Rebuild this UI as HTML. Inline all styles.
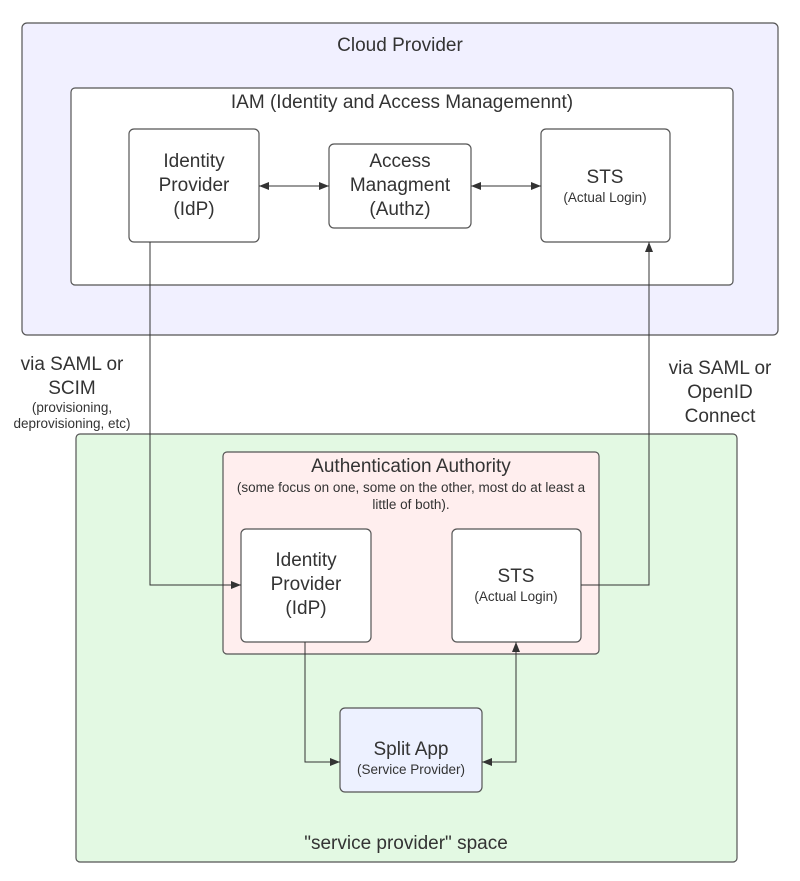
<!DOCTYPE html>
<html><head><style>body{margin:0;background:#fff}svg{display:block}text{font-family:"Liberation Sans",sans-serif;fill:#333;text-anchor:middle}</style></head>
<body>
<svg width="800" height="881" viewBox="0 0 800 881" xmlns="http://www.w3.org/2000/svg">
<defs><marker id="a" markerWidth="10" markerHeight="8" refX="10" refY="4" orient="auto-start-reverse" markerUnits="userSpaceOnUse"><path d="M0,0 L10,4 L0,8 z" fill="#333"/></marker></defs>
<g stroke="#555" stroke-width="1.2">
<rect x="22" y="23" width="756" height="312" rx="5" fill="#f1f0ff"/>
<rect x="71" y="88" width="662" height="197" rx="4" fill="#fff"/>
<rect x="129" y="129" width="130" height="113" rx="5" fill="#fff"/>
<rect x="329" y="144" width="142" height="84" rx="5" fill="#fff"/>
<rect x="541" y="129" width="129" height="113" rx="5" fill="#fff"/>
<rect x="76" y="434" width="661" height="428" rx="4" fill="#e3f9e3"/>
<rect x="223" y="452" width="376" height="202" rx="4" fill="#ffeeee"/>
<rect x="241" y="529" width="130" height="113" rx="5" fill="#fff"/>
<rect x="452" y="529" width="129" height="113" rx="5" fill="#fff"/>
<rect x="340" y="708" width="142" height="84" rx="5" fill="#edf1ff"/>
</g>
<g stroke="#333" stroke-width="1" fill="none">
<line x1="259" y1="186" x2="329" y2="186" marker-end="url(#a)" marker-start="url(#a)"/>
<line x1="471" y1="186" x2="541" y2="186" marker-end="url(#a)" marker-start="url(#a)"/>
<polyline points="150,242 150,585 241,585" marker-end="url(#a)"/>
<polyline points="581,585 649,585 649,242" marker-end="url(#a)"/>
<polyline points="305,642 305,762 340,762" marker-end="url(#a)"/>
<polyline points="482,762 516,762 516,642" marker-end="url(#a)" marker-start="url(#a)"/>
</g>
<g font-size="19">
<text x="400" y="51">Cloud Provider</text>
<text x="402" y="108">IAM (Identity and Access Managemennt)</text>
<text x="194" y="167">Identity</text>
<text x="194" y="191">Provider</text>
<text x="194" y="215">(IdP)</text>
<text x="400" y="167">Access</text>
<text x="400" y="191">Managment</text>
<text x="400" y="215">(Authz)</text>
<text x="605" y="183">STS</text>
<text x="72" y="370">via SAML or</text>
<text x="72" y="394">SCIM</text>
<text x="720" y="374">via SAML or</text>
<text x="720" y="398">OpenID</text>
<text x="720" y="422">Connect</text>
<text x="411" y="472">Authentication Authority</text>
<text x="306" y="566">Identity</text>
<text x="306" y="590">Provider</text>
<text x="306" y="614">(IdP)</text>
<text x="516" y="582">STS</text>
<text x="411" y="755">Split App</text>
<text x="406" y="849">"service provider" space</text>
</g>
<g font-size="13.5">
<text x="605" y="202">(Actual Login)</text>
<text x="72" y="412">(provisioning,</text>
<text x="72" y="428">deprovisioning, etc)</text>
<text x="411" y="492">(some focus on one, some on the other, most do at least a</text>
<text x="411" y="509">little of both).</text>
<text x="516" y="601">(Actual Login)</text>
<text x="411" y="774">(Service Provider)</text>
</g>
</svg>
</body></html>
